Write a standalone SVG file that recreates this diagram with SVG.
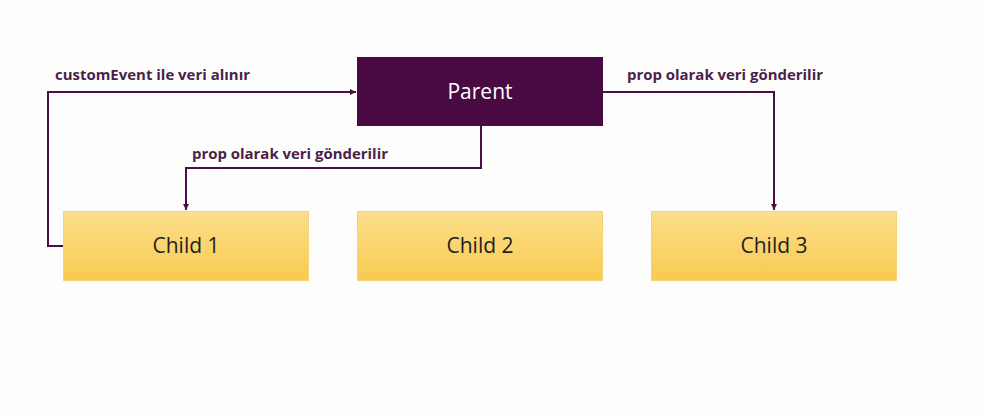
<svg xmlns="http://www.w3.org/2000/svg" width="982" height="415" viewBox="0 0 982 415">
<defs>
<linearGradient id="yel" x1="0" y1="0" x2="0" y2="1">
<stop offset="0" stop-color="#fcdf8c"/>
<stop offset="1" stop-color="#f8ca4f"/>
</linearGradient>
<marker id="arr" viewBox="0 0 10 10" refX="10" refY="5" markerWidth="6" markerHeight="6" markerUnits="userSpaceOnUse" orient="auto">
<path d="M0,0 L10,5 L0,10 z" fill="#4a0d45"/>
</marker>
</defs>
<style>
.bg{fill:#fdfdfc}
.child{fill:url(#yel);stroke:#f6d37a;stroke-width:1}
.parent{fill:#490a44}
.ct{font-family:"Open Sans","Noto Sans",sans-serif;font-size:21px;fill:#222;text-anchor:middle}
.pt{font-family:"Open Sans","Noto Sans",sans-serif;font-size:21px;fill:#ffffff;text-anchor:middle}
.lbl{font-family:"Open Sans","Noto Sans",sans-serif;font-size:14px;font-weight:bold;fill:#4a1f4a}
.con{fill:none;stroke:#4a0d45;stroke-width:2;marker-end:url(#arr)}
</style>
<rect class="bg" x="0" y="0" width="982" height="415"/>
<g id="connectors">
<path class="con" d="M63,246 H48 V92 H356"/>
<path class="con" d="M481,126 V168 H186 V210"/>
<path class="con" d="M603,92 H774 V210"/>
</g>
<g id="labels">
<text class="lbl" x="55" y="80" textLength="195" lengthAdjust="spacingAndGlyphs">customEvent ile veri alınır</text>
<text class="lbl" x="192" y="159" textLength="196" lengthAdjust="spacingAndGlyphs">prop olarak veri gönderilir</text>
<text class="lbl" x="627" y="80" textLength="196" lengthAdjust="spacingAndGlyphs">prop olarak veri gönderilir</text>
</g>
<g id="parent">
<rect class="parent" x="357" y="57" width="246" height="69"/>
<text class="pt" x="480" y="99">Parent</text>
</g>
<g id="child1">
<rect class="child" x="63.5" y="211.5" width="245" height="69"/>
<text class="ct" x="186" y="253">Child 1</text>
</g>
<g id="child2">
<rect class="child" x="357.5" y="211.5" width="245" height="69"/>
<text class="ct" x="480" y="253">Child 2</text>
</g>
<g id="child3">
<rect class="child" x="651.5" y="211.5" width="245" height="69"/>
<text class="ct" x="774" y="253">Child 3</text>
</g>
</svg>
